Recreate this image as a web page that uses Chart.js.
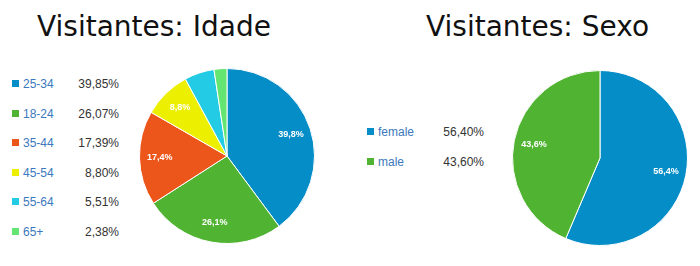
<!DOCTYPE html>
<html>
<head>
<meta charset="utf-8">
<script src="https://cdn.jsdelivr.net/npm/chart.js@4"></script>
<style>
    body { margin: 0; background: #fff; width: 700px; height: 266px; position: relative; overflow: hidden; }
    .title { position: absolute; font-family: "DejaVu Sans", sans-serif; font-size: 28px; color: #111; white-space: nowrap; line-height: 1; }
    .legend { position: absolute; font-family: "Liberation Sans", Arial, sans-serif; font-size: 12px; }
    .row { position: absolute; left: 0; height: 14px; line-height: 14px; white-space: nowrap; }
    .sq { position: absolute; left: 0; top: 3px; width: 7px; height: 7px; }
    .lbl { position: absolute; color: #3b78bd; }
    .val { position: absolute; color: #333; text-align: right; }
    canvas { position: absolute; }
</style>
</head>
<body>
<div class="title" style="left:37px; top:13px">Visitantes: Idade</div>
<div class="title" style="left:426px; top:13px">Visitantes: Sexo</div>
<div class="legend" id="legendIdade" style="left:12px; top:77px"></div>
<div class="legend" id="legendSexo" style="left:367px; top:125px"></div>
<canvas id="pieIdade" width="176" height="176" style="left:139px; top:68px"></canvas>
<canvas id="pieSexo" width="176" height="176" style="left:512px; top:70px"></canvas>
<script>
// Idade
const idadeLabels = ["25-34", "18-24", "35-44", "45-54", "55-64", "65+"];
const idadeValues = [39.846, 26.07, 17.39, 8.80, 5.51, 2.38];
const idadeColors = ["#058dc7", "#50b432", "#ed561b", "#edef00", "#24cbe5", "#64e572"];

// Sexo
const sexoLabels = ["female", "male"];
const sexoValues = [56.40, 43.60];
const sexoColors = ["#058dc7", "#50b432"];

function fmt(v, d) {
    return v.toFixed(d).replace(".", ",") + "%";
}

function buildLegend(id, labels, values, colors, valRight) {
    let box = document.getElementById(id);
    labels.forEach((l, i) => {
        let row = document.createElement("div");
        row.className = "row";
        row.style.top = (i * 29.6) + "px";
        row.innerHTML = `<span class="sq" style="background:${colors[i]}"></span>` +
            `<span class="lbl" style="left:11px">${l}</span>` +
            `<span class="val" style="left:0; width:${valRight}px">${fmt(values[i], 2)}</span>`;
        box.appendChild(row);
    });
}

// rotulos brancos dentro das fatias
const sliceLabels = {
    id: "sliceLabels",
    afterDatasetsDraw(chart) {
        let ctx = chart.ctx;
        let meta = chart.getDatasetMeta(0);
        let data = chart.data.datasets[0].data;
        ctx.save();
        ctx.fillStyle = "#fff";
        ctx.font = "bold 9px 'Liberation Sans', Arial, sans-serif";
        ctx.textAlign = "center";
        ctx.textBaseline = "middle";
        meta.data.forEach((arc, i) => {
            if (data[i] < 7) return;
            let a = (arc.startAngle + arc.endAngle) / 2;
            let r = arc.outerRadius * 0.77;
            ctx.fillText(fmt(data[i], 1), arc.x + Math.cos(a) * r, arc.y + Math.sin(a) * r);
        });
        ctx.restore();
    }
};

function drawPie(id, labels, values, colors) {
    new Chart(document.getElementById(id).getContext("2d"), {
        type: "pie",
        data: {
            labels: labels,
            datasets: [{
                data: values,
                backgroundColor: colors,
                borderColor: "#fff",
                borderWidth: 1
            }]
        },
        options: {
            responsive: false,
            animation: false,
            layout: { padding: 0 },
            plugins: { legend: { display: false }, tooltip: { enabled: false } }
        },
        plugins: [sliceLabels]
    });
}

buildLegend("legendIdade", idadeLabels, idadeValues, idadeColors, 107);
buildLegend("legendSexo", sexoLabels, sexoValues, sexoColors, 117);
drawPie("pieIdade", idadeLabels, idadeValues, idadeColors);
drawPie("pieSexo", sexoLabels, sexoValues, sexoColors);
</script>
</body>
</html>
